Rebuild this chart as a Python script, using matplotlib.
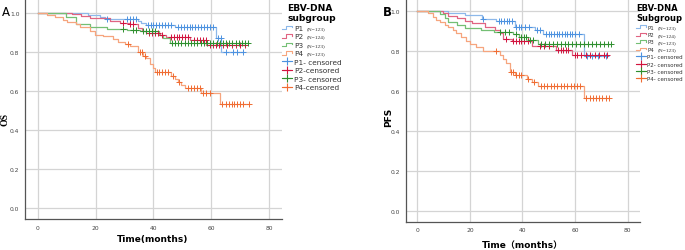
import numpy as np
import matplotlib.pyplot as plt
from matplotlib.lines import Line2D
from matplotlib.legend_handler import HandlerBase

# Kaplan-Meier okumaları (olay zamanı, olay sonrası sağkalım, sansür zamanları)
groups = ["P1", "P2", "P3", "P4"]
group_n_os = ["(N=123)", "(N=124)", "(N=123)", "(N=123)"]
group_n_pfs = ["(N=123)", "(N=124)", "(N=123)", "(N=123)"]

# --- OS ---
p1_os_t = [17.5, 21.5, 23.2, 34.8, 35.8, 37.4, 47.4, 61.7, 63.4]
p1_os_s = [0.99, 0.98, 0.968, 0.959, 0.95, 0.94, 0.927, 0.874, 0.80]
p1_os_c = [23.8, 31, 32, 33, 34, 38, 39, 40, 41, 42, 43, 44, 45, 46, 48.5, 49.5,
           50.5, 51.5, 52.5, 53.5, 54.5, 55.5, 56.5, 57.5, 58.5, 59.5, 60.5,
           62.3, 63.2, 65, 67.5, 69, 71]

p2_os_t = [11.7, 15, 18, 25, 28.4, 31.8, 34.7, 35.9, 37.6, 42.2, 44.5, 52.5, 58.3]
p2_os_s = [0.995, 0.985, 0.975, 0.96, 0.95, 0.945, 0.925, 0.91, 0.90, 0.89, 0.877, 0.86, 0.838]
p2_os_c = [29.5, 32, 33, 38.5, 39.5, 40.5, 41.5, 43, 46, 47, 48, 49, 50, 51, 52,
           54, 55, 56, 57, 58, 59.5, 60.5, 61.5, 62.5, 64, 65.5, 67, 68.5, 70, 71.5]

p3_os_t = [9.8, 13.4, 18, 23.8, 30.7, 35.3, 42, 43.3, 45.6]
p3_os_s = [0.981, 0.942, 0.928, 0.92, 0.915, 0.906, 0.89, 0.874, 0.848]
p3_os_c = [29.5, 33, 34, 36.5, 37.5, 38.5, 39.5, 40.5, 46.5, 47.5, 48.6, 49.7,
           50.8, 51.9, 53, 54.1, 55.2, 56.3, 57.4, 58.5, 59.6, 60.7, 61.8, 62.9,
           64, 65.1, 66.2, 67.3, 68.4, 69.5, 70.6, 71.7, 72.6]

p4_os_t = [3.1, 6, 8.9, 10, 13.4, 14.6, 18, 19.8, 22.6, 26.1, 27.8, 30.1, 31.8,
           34.7, 36.4, 37.6, 38.7, 39.9, 40.5, 46.2, 47.4, 48.5, 49.7, 50.8, 56.6, 62.9]
p4_os_s = [0.99, 0.98, 0.965, 0.955, 0.945, 0.93, 0.91, 0.89, 0.88, 0.865, 0.85,
           0.84, 0.83, 0.80, 0.78, 0.77, 0.74, 0.72, 0.698, 0.678, 0.66, 0.645,
           0.63, 0.618, 0.589, 0.535]
p4_os_c = [31.3, 35.3, 36.2, 37, 41.2, 42, 43, 44, 45, 46.8, 49, 52, 53, 54, 55,
           56, 57.3, 58.3, 59.5, 63.8, 65, 66, 67, 68, 69, 70, 71, 73]

# --- PFS ---
p1_pfs_t = [11.7, 18.1, 24.5, 30, 37.1, 44.7, 47.8, 63.5]
p1_pfs_s = [0.99, 0.98, 0.96, 0.953, 0.923, 0.906, 0.886, 0.778]
p1_pfs_c = [24.8, 31, 32, 33, 34, 35, 36, 37.6, 38.5, 39.5, 41, 42.5, 45.5, 46.5,
            49, 50, 51, 52, 53, 54, 55, 56, 57, 58, 59, 60, 61.5, 64.4, 66.3, 68.7, 71.7]

p2_pfs_t = [9.8, 11.7, 15, 18, 20.7, 25.7, 29.5, 31.4, 32.6, 35.9, 43.5, 52.7, 59]
p2_pfs_s = [0.99, 0.975, 0.965, 0.95, 0.94, 0.92, 0.905, 0.89, 0.862, 0.85, 0.828, 0.808, 0.783]
p2_pfs_c = [33.8, 36.5, 37.5, 38.5, 39.5, 40.5, 42, 46.5, 48, 50, 53.5, 54.5, 55.5,
            56.5, 57.5, 59.8, 60.8, 62.3, 64, 65.5, 67.5, 69, 71, 72.3]

p3_pfs_t = [8.6, 10.5, 11.7, 15, 18.1, 24.3, 29.2, 36.5, 38.5, 42, 46]
p3_pfs_s = [0.985, 0.965, 0.945, 0.93, 0.915, 0.905, 0.895, 0.886, 0.87, 0.855, 0.836]
p3_pfs_c = [31.5, 33.5, 35, 37.5, 39.5, 40.5, 41.5, 43, 44, 47, 48.5, 50, 51.5,
            53, 54.5, 56, 57.5, 59, 60.5, 62, 63.5, 65, 66.5, 68, 69.5, 71, 72.5, 73.8]

p4_pfs_t = [4.1, 6, 7.3, 8.6, 10.5, 11.7, 13.7, 14.9, 16.8, 18.7, 19.9, 22.4, 25,
            31.4, 32.6, 33.9, 35.2, 37, 41.6, 43.5, 45.9, 63.4]
p4_pfs_s = [0.99, 0.97, 0.955, 0.945, 0.93, 0.92, 0.905, 0.89, 0.87, 0.85, 0.835,
            0.82, 0.803, 0.78, 0.76, 0.74, 0.695, 0.68, 0.66, 0.645, 0.628, 0.565]
p4_pfs_c = [30, 35.6, 36.5, 37.5, 38.5, 39.5, 42.2, 44.5, 47, 48.3, 49.5, 50.8, 52,
            53.3, 54.5, 55.8, 57, 58.3, 59.5, 60.8, 61.9, 64.3, 65.5, 66.7, 68,
            69.2, 70.4, 71.6, 73]

x_ticks = [0, 20, 40, 60, 80]
y_ticks = [0.0, 0.2, 0.4, 0.6, 0.8, 1.0]

line_colors = ["#8db8ea", "#e06482", "#74bf74", "#f6a57e"]
mark_colors = ["#4d92e0", "#d2143e", "#2f8f2f", "#f06c32"]

W, H = 685, 251


class StepHandler(HandlerBase):
    def create_artists(self, legend, orig_handle, xdescent, ydescent,
                       width, height, fontsize, trans):
        w, h = width, height
        x0 = -xdescent
        xs = [x0, x0 + 0.45 * w, x0 + 0.45 * w, x0 + w, x0 + w]
        ys = [0.1 * h, 0.1 * h, 0.85 * h, 0.85 * h, 0.5 * h]
        ln = Line2D(xs, ys, color=orig_handle.get_color(), lw=0.8, transform=trans)
        return [ln]


def km_panel(ax, data, xlim, ylim):
    for i, (t, s, c) in enumerate(data):
        tt = [0] + t + [max(c)]
        ss = [1.0] + s + [s[-1]]
        ax.step(tt, ss, where="post", color=line_colors[i], lw=0.9, zorder=3)
        lvl = np.array([1.0] + s)
        cy = lvl[np.searchsorted(t, c, side="right")]
        ax.plot(c, cy, ls="none", marker="+", ms=4, mew=0.7,
                color=mark_colors[i], zorder=4)

    ax.set_xlim(*xlim)
    ax.set_ylim(*ylim)
    ax.set_xticks(x_ticks)
    ax.set_yticks(y_ticks)
    ax.set_xticklabels([str(v) for v in x_ticks])
    ax.set_yticklabels([f"{v:.1f}" for v in y_ticks])
    ax.tick_params(length=0, labelsize=4.3, colors="#444444", pad=4)
    ax.grid(True, color="#d4d4d4", lw=0.9)
    ax.set_axisbelow(True)
    for sp in ["top", "right"]:
        ax.spines[sp].set_visible(False)
    for sp in ["left", "bottom"]:
        ax.spines[sp].set_color("#555555")
        ax.spines[sp].set_linewidth(0.9)


def km_legend(ax, title, x_px, loc, fsize, tsize, cens_labels):
    handles = [Line2D([], [], color=line_colors[i]) for i in range(4)]
    hmap = {h: StepHandler() for h in handles}
    labels = list(groups)
    for i in range(4):
        handles.append(Line2D([0, 1], [0, 0], color=mark_colors[i], lw=0.8,
                              marker="+", ms=6, mew=0.8))
        labels.append(cens_labels[i])
    lg = ax.legend(handles, labels, handler_map=hmap, title=title,
                   bbox_to_anchor=(x_px / W, 1 - 4 / H), bbox_transform=fig.transFigure,
                   frameon=False, fontsize=fsize, handlelength=1.3 * 5.3 / fsize,
                   handletextpad=0.3, labelspacing=0.32 * 5.3 / fsize,
                   borderpad=0, borderaxespad=0, alignment="center", loc=loc,
                   title_fontproperties={"size": tsize, "weight": "bold"})
    for t in lg.get_texts():
        t.set_color("#333333")
    return lg


fig = plt.figure(figsize=(6.85, 2.51), dpi=100)

ax1 = fig.add_axes([0.0365, 0.1235, 0.375, 0.871])
km_panel(ax1, [(p1_os_t, p1_os_s, p1_os_c), (p2_os_t, p2_os_s, p2_os_c),
               (p3_os_t, p3_os_s, p3_os_c), (p4_os_t, p4_os_s, p4_os_c)],
         (-4.4, 84.4), (-0.056, 1.065))

ax2 = fig.add_axes([0.5923, 0.1127, 0.342, 0.886])
km_panel(ax2, [(p1_pfs_t, p1_pfs_s, p1_pfs_c), (p2_pfs_t, p2_pfs_s, p2_pfs_c),
               (p3_pfs_t, p3_pfs_s, p3_pfs_c), (p4_pfs_t, p4_pfs_s, p4_pfs_c)],
         (-4.4, 84.7), (-0.052, 1.06))

lg1 = km_legend(ax1, "EBV-DNA\nsubgroup", 282, "upper left", 5.3, 6.6,
                ["P1- censored", "P2-censored", "P3- censored", "P4-censored"])
lg2 = km_legend(ax2, "EBV-DNA\nSubgroup", 683, "upper right", 4.0, 6.0,
                ["P1- censored", "P2- censored", "P3- censored", "P4- censored"])

# (N=...) küçük serif yazı, legend etiketlerinin yanına
fig.canvas.draw()
for lg, nlab in [(lg1, group_n_os), (lg2, group_n_pfs)]:
    for txt, n in zip(lg.get_texts()[:4], nlab):
        bb = txt.get_window_extent()
        fig.text((bb.x1 + 4) / W, (bb.y0 + bb.y1) / 2 / H, n, fontsize=3.9,
                 family="Liberation Serif", color="#333333", va="center", ha="left")

# panel harfleri ve eksen başlıkları
fig.text(2 / W, 1 - 12 / H, "A", fontsize=8.5, va="center", ha="left")
fig.text(383 / W, 1 - 12 / H, "B", fontsize=8.5, fontweight="bold", va="center", ha="left")
fig.text(5 / W, 1 - 120 / H, "OS", fontsize=7, family="Liberation Serif",
         fontweight="bold", rotation=90, va="center", ha="center")
fig.text(389 / W, 1 - 117 / H, "PFS", fontsize=6.5, fontweight="bold",
         rotation=90, va="center", ha="center")
fig.text(153 / W, 1 - 240 / H, "Time(months)", fontsize=6.5, fontweight="bold",
         va="center", ha="center")
fig.text(522 / W, 1 - 246 / H, "Time\uff08months\uff09", fontsize=6.5, fontweight="bold",
         family=["DejaVu Sans", "Noto Sans CJK SC"], va="center", ha="center")

fig.savefig("out.png", dpi=100)
